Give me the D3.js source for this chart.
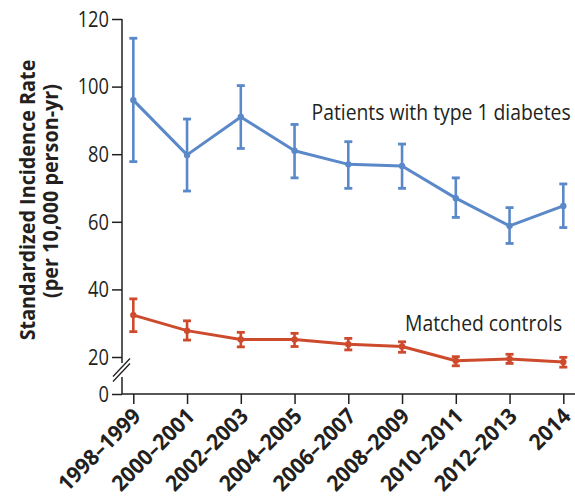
<!DOCTYPE html>
<html>
<head>
<meta charset="utf-8">
<script src="https://cdn.jsdelivr.net/npm/d3@7"></script>
<style>
  html, body { margin: 0; padding: 0; background: #fff; }
  svg { display: block; }
  text { fill: #231f20; font-family: "Open Sans", sans-serif; }
</style>
</head>
<body>
<svg id="chart" width="575" height="499"></svg>
<script>
// Two-year periods on the x axis
const categories = ["1998–1999", "2000–2001", "2002–2003", "2004–2005", "2006–2007",
                    "2008–2009", "2010–2011", "2012–2013", "2014"];

// Patients with type 1 diabetes: rate and 95% CI
const diabetesRate  = [96.0, 79.8, 91.0, 81.0, 77.0, 76.5, 67.0, 58.8, 64.7];
const diabetesLower = [77.8, 69.1, 81.7, 73.0, 69.9, 69.9, 61.3, 53.6, 58.3];
const diabetesUpper = [114.3, 90.4, 100.3, 88.8, 83.7, 83.0, 73.0, 64.2, 71.2];

// Matched controls: rate and 95% CI
const controlRate  = [32.4, 27.8, 25.2, 25.2, 23.8, 23.1, 18.9, 19.4, 18.5];
const controlLower = [27.5, 25.0, 23.0, 23.1, 22.1, 21.4, 17.4, 18.1, 17.0];
const controlUpper = [37.2, 30.7, 27.3, 27.0, 25.5, 24.5, 20.1, 20.8, 19.9];

const yTicks = [0, 20, 40, 60, 80, 100, 120];

const seriesLabels = ["Patients with type 1 diabetes", "Matched controls"];
const yTitle = ["Standardized Incidence Rate", "(per 10,000 person-yr)"];

const BLUE = "#5a88c8";
const RED = "#cd4b2c";
const INK = "#231f20";

const svg = d3.select("#chart");

const axisX = 122;   // position of y axis line
const axisY = 394;   // position of x axis line

// Data scale (broken axis: 20–120 linear, 0 sits below the break)
const y = d3.scaleLinear().domain([20, 120]).range([357, 19]);
const yAxisScale = d3.scaleLinear().domain([0, 20, 120]).range([axisY, y(20), y(120)]);
const x = d3.scalePoint().domain(categories).range([133.3, 563.3]);

// ---- Y axis ----
const gy = svg.append("g").attr("transform", `translate(${axisX},0)`)
  .call(d3.axisLeft(yAxisScale).tickValues(yTicks).tickSize(10).tickPadding(0).tickFormat(d3.format("d")));
gy.select(".domain").remove();
gy.selectAll(".tick line").attr("stroke", INK).attr("stroke-width", 1.5);
gy.selectAll(".tick text")
  .attr("x", null).attr("dy", "0.35em")
  .attr("transform", "translate(-13,0) scale(0.87,1)")
  .attr("text-anchor", "end")
  .style("font-size", "21px").style("font-family", "'Open Sans', sans-serif").attr("fill", INK);

// axis line with break marks
const breakTop = 363, breakBottom = 377;
svg.append("line").attr("x1", axisX).attr("x2", axisX)
  .attr("y1", y(120)).attr("y2", breakTop).attr("stroke", INK).attr("stroke-width", 1.5);
svg.append("line").attr("x1", axisX).attr("x2", axisX)
  .attr("y1", breakBottom).attr("y2", axisY).attr("stroke", INK).attr("stroke-width", 1.5);
[-2.5, 2.5].forEach(off => {
  svg.append("line")
    .attr("x1", axisX - 9).attr("y1", (breakTop + breakBottom) / 2 + off + 9)
    .attr("x2", axisX + 8).attr("y2", (breakTop + breakBottom) / 2 + off - 9)
    .attr("stroke", INK).attr("stroke-width", 1.3);
});

// ---- X axis ----
const gx = svg.append("g").attr("transform", `translate(0,${axisY})`)
  .call(d3.axisBottom(x).tickSize(10).tickSizeOuter(0));
gx.select(".domain").remove();
svg.append("line").attr("x1", axisX).attr("x2", 575)
  .attr("y1", axisY).attr("y2", axisY).attr("stroke", INK).attr("stroke-width", 1.5);
gx.selectAll(".tick line").attr("stroke", INK).attr("stroke-width", 1.5);
gx.selectAll(".tick text")
  .attr("y", null).attr("dy", null)
  .attr("text-anchor", "end")
  .attr("transform", "translate(8.3,23.5) rotate(-45) scale(0.95,1)")
  .style("font-size", "22px").style("font-weight", "700")
  .style("font-family", "'Open Sans', sans-serif").attr("fill", INK);

// ---- Y title ----
const titleG = svg.append("g");
titleG.append("text")
  .attr("transform", "translate(35,200) rotate(-90) scale(0.9,1)")
  .attr("text-anchor", "middle")
  .style("font-size", "22px").style("font-weight", "700")
  .text(yTitle[0]);
titleG.append("text")
  .attr("transform", "translate(58,191) rotate(-90) scale(0.9,1)")
  .attr("text-anchor", "middle")
  .style("font-size", "22px").style("font-weight", "700")
  .text(yTitle[1]);

// ---- Series ----
function drawSeries(rate, lower, upper, color, lineWidth) {
  const pts = categories.map((c, i) => ({ c, v: rate[i], lo: lower[i], hi: upper[i] }));
  const g = svg.append("g");
  g.append("path").datum(pts)
    .attr("fill", "none").attr("stroke", color).attr("stroke-width", lineWidth)
    .attr("stroke-linejoin", "round")
    .attr("d", d3.line().x(d => x(d.c)).y(d => y(d.v)));
  const eb = g.selectAll(".eb").data(pts).join("g").attr("class", "eb");
  eb.append("line")
    .attr("x1", d => x(d.c)).attr("x2", d => x(d.c))
    .attr("y1", d => y(d.lo)).attr("y2", d => y(d.hi))
    .attr("stroke", color).attr("stroke-width", 2.6);
  ["lo", "hi"].forEach(k => {
    eb.append("line")
      .attr("x1", d => x(d.c) - 4).attr("x2", d => x(d.c) + 4)
      .attr("y1", d => y(d[k])).attr("y2", d => y(d[k]))
      .attr("stroke", color).attr("stroke-width", 2.8);
  });
  eb.append("circle")
    .attr("cx", d => x(d.c)).attr("cy", d => y(d.v)).attr("r", 3.2)
    .attr("fill", color);
}

drawSeries(diabetesRate, diabetesLower, diabetesUpper, BLUE, 3);
drawSeries(controlRate, controlLower, controlUpper, RED, 3);

// ---- Series labels ----
svg.append("text")
  .attr("transform", "translate(311.5,120) scale(0.9,1)")
  .style("font-size", "21.5px")
  .text(seriesLabels[0]);
svg.append("text")
  .attr("transform", "translate(405,331) scale(0.9,1)")
  .style("font-size", "21.5px")
  .text(seriesLabels[1]);
</script>
</body>
</html>
